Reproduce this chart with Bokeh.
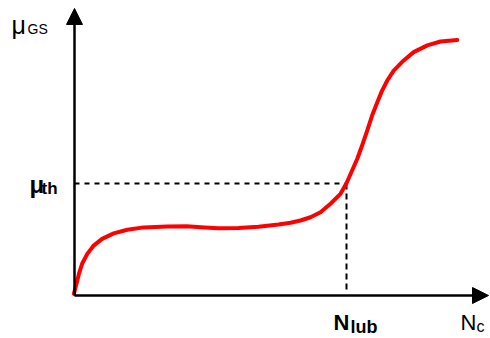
from bokeh.plotting import figure
from bokeh.models import Range1d, Arrow, NormalHead
from bokeh.core.properties import value
from bokeh.embed import file_html
from bokeh.resources import INLINE

# Curve: N_c (x) vs mu_GS (y), arbitrary units
nc = [-0.015, 0.05, 0.11, 0.19, 0.32, 0.48, 0.69, 0.98, 1.32, 1.73, 2.32,
      2.8, 3.25, 3.6, 4.1, 4.6, 5.1, 5.4, 5.65, 5.9, 6.15, 6.4, 6.65, 6.8,
      6.94, 7.07, 7.19, 7.32, 7.44, 7.57, 7.69, 7.82, 7.98, 8.23, 8.48,
      8.82, 9.15, 9.57]
mu = [0.065, 0.45, 0.83, 1.22, 1.6, 1.92, 2.18, 2.39, 2.53, 2.62, 2.65,
      2.66, 2.62, 2.59, 2.6, 2.64, 2.73, 2.8, 2.885, 3.01, 3.2, 3.53, 3.91, 4.32,
      4.81, 5.26, 5.77, 6.35, 6.92, 7.43, 7.88, 8.27, 8.65, 9.04, 9.36,
      9.62, 9.77, 9.83]
mu_th = 4.31
n_lub = 6.8
x_axis_end = 10.35
y_axis_end = 11.04

PX_X = 40.0
PX_Y = 26.0
OX, OY = 74.0, 295.0
W, H = 490, 338

def sx(px):
    return (px - OX) / PX_X

def sy(py):
    return (OY - py) / PX_Y

p = figure(width=W, height=H, output_backend="svg", toolbar_location=None,
           x_range=Range1d(sx(0), sx(W)), y_range=Range1d(sy(H), sy(0)),
           min_border=0)
p.axis.visible = False
p.grid.visible = False
p.outline_line_color = None
p.background_fill_color = "white"
p.border_fill_color = "white"

# dashed guides
p.line([0, n_lub], [mu_th, mu_th], line_color="black", line_width=2, line_dash="5 5")
p.line([n_lub, n_lub], [mu_th, 0.2], line_color="black", line_width=2, line_dash="6 4")

# curve
p.line(nc, mu, line_color="#ff0000", line_width=4, line_join="round", line_cap="round")

# axes with arrows
p.add_layout(Arrow(x_start=0, y_start=0, x_end=0, y_end=y_axis_end,
                   line_width=2.5, line_color="black",
                   end=NormalHead(size=16, fill_color="black", line_color="black", line_width=1)))
p.add_layout(Arrow(x_start=0, y_start=0, x_end=x_axis_end, y_end=0,
                   line_width=2.5, line_color="black",
                   end=NormalHead(size=16, fill_color="black", line_color="black", line_width=1)))

font = value("Liberation Sans")

def lab(txt, px, py, size, bold=False):
    p.text(x=[sx(px)], y=[sy(py)], text=[txt], text_font=font,
           text_font_size=f"{size}px", text_font_style="bold" if bold else "normal",
           text_align="left", text_baseline="alphabetic", text_color="black")

lab("μ", 11, 24, 25)
lab("GS", 27, 28, 14)
lab("μ", 29, 184, 24, True)
lab("th", 41, 188, 17, True)
lab("N", 333, 322, 22, True)
lab("lub", 350, 326, 18, True)
lab("N", 460, 322, 22)
lab("c", 476, 326, 16)

open("out.html", "w").write(file_html(p, INLINE))
